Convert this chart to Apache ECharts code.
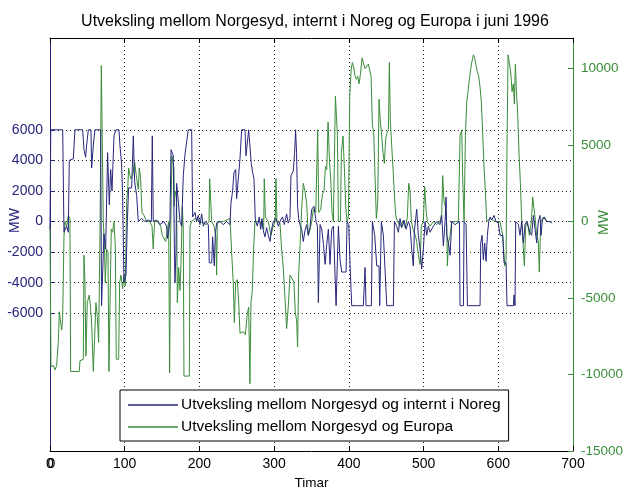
<!DOCTYPE html>
<html>
<head>
<meta charset="utf-8">
<script src="https://cdn.jsdelivr.net/npm/echarts@6/dist/echarts.min.js"></script>
<style>
  html, body { margin: 0; padding: 0; background: #fff; }
  #chart { width: 625px; height: 488px; }
</style>
</head>
<body>
<div id="chart"></div>
<script>
// Utveksling Norgesyd - internt i Noreg (MW), timar i juni 1996
var blueHours = [0, 1, 2.2, 17, 18.7, 22.3, 24.5, 25.8, 31.2, 33.4, 43.7, 45.5, 47.7, 49, 51.3, 54.8, 55.7, 57, 58, 60.2,
  67.8, 69, 71.3, 72.2, 74.5, 77.1, 79.4, 81.2, 83, 85.6, 88.3, 92.3, 93.6, 95.9, 97.2, 99, 101.7, 103.5, 105.2, 109.3,
  111.5, 113.3, 116, 118.2, 122.6, 127, 131.6, 135.6, 136.9, 138.2, 142.7, 147, 152.5, 156, 157.4, 159.2, 160.5, 162, 165, 166.4,
  167.3, 168.6, 169.5, 171.8, 174, 176.2, 178.4, 180.7, 182.9, 185.1, 189.6, 190.9, 194, 196.3, 198.5, 200.7, 203, 205.2, 207.4, 209.7,
  211.9, 213.2, 216.4, 217.7, 219.9, 221.3, 223, 227.5, 232, 236.4, 240.9, 242.2, 244.4, 246.2, 248.5, 249.8, 252, 254.3, 256.5, 261,
  262.3, 264.1, 265.9, 268.5, 269.4, 271.2, 273, 274.8, 277.5, 280.1, 282, 283.7, 285.5, 287.7, 289.9, 292.2, 294.4, 296.6, 298.9, 302.4,
  305.6, 308.7, 311.3, 313.6, 316.7, 318.9, 321.2, 322.5, 325.6, 327.4, 328.7, 330, 331.4, 332.8, 334.5, 336.8, 339, 341.2, 343.5, 345.7,
  348, 350.3, 353.4, 356.1, 357.9, 359.2, 360.6, 361.5, 363.7, 366, 368.2, 370.4, 372.6, 374.8, 377.1, 379.3, 381.5, 382.9, 384.7, 386,
  388.2, 390.5, 396.3, 397.6, 399.8, 401.6, 403.8, 411.4, 419.4, 421.7, 423, 430.1, 431.5, 434.6, 437.3, 440.4, 441.3, 442.6, 443.5, 446.2,
  448.4, 450.7, 459.6, 461, 464, 466.3, 468.5, 470.7, 473.9, 476.5, 479.7, 481.9, 484.1, 486.3, 487.7, 489.5, 490.8, 493, 495.3, 497.5,
  499.7, 502, 504.2, 506.4, 508.7, 513.1, 517.6, 522, 524.3, 526.5, 528.8, 530.1, 531, 533.2, 535.5, 537.7, 542.2, 548, 548.8, 553.3,
  554.2, 556.9, 558.7, 575.6, 576.5, 578.3, 580, 581.8, 583.6, 585.4, 587.2, 589, 591.2, 594.3, 597, 600.1, 602.4, 605.9, 607.7, 610.4,
  611.7, 620.2, 621.1, 622.4, 623.3, 626.9, 629.1, 631.4, 633.6, 635.8, 638, 642.5, 644.7, 647, 649.2, 651.4, 653.6, 655.9, 657.2, 659,
  661.7, 664.8, 669.3, 672];
var blueMW = [-500, 6000, 6000, 6000, -700, -300, -700, 4000, 4100, 6000, 6000, 4700, 4200, 5000, 6000, 6000, 3500, 3500, 5000, 6000,
  6000, -5500, -5500, -800, -1800, 4500, 1100, 3400, 2000, 5600, 6000, 6000, 5000, 3700, 1700, -4000, -3500, 0, 2200, 2200,
  5600, 2600, 1700, 0, 200, 0, 100, 0, 5600, 0, 100, -200, 0, -300, -1100, -500, 0, 4700, 4300, -1500,
  -4000, -2000, 2500, 1300, 0, -300, 3000, 4400, 4500, 6000, 6000, 300, 600, 0, 400, -200, 500, -300, 0, 100,
  -200, -2700, -2700, -1000, -2900, -800, -100, 0, -200, 0, -200, 1200, 2000, 3200, 3400, 1500, 1600, 4100, 6000, 6000,
  4300, 4400, 6000, 6000, 3800, 3200, 2800, 100, -300, 300, -500, 200, -600, -1000, -400, -900, -1300, -500, 0, 200,
  -300, 100, 300, -200, 500, -100, 200, 3000, 3300, 4500, 6000, 4500, 1000, 200, -200, -500, -1300, -600, -200, -900,
  -400, 800, 1000, 0, -300, -5300, -5300, -200, -500, -1500, -2800, -1500, -500, -2800, -500, -300, -200, -5500, -5500, -300,
  -2500, -3300, -3300, 0, -200, -2800, -5500, -5500, -5500, -3000, -5500, -5500, 0, -900, -2900, -2900, -5500, -5500, 0, -900,
  -3100, -5500, -5500, 0, -300, -700, 200, -400, 100, -500, 0, -300, -1800, -2900, -600, 200, 800, -900, -1800, -3100,
  -1800, 0, -900, -300, -700, -300, 0, -200, 400, -1600, 0, 1600, -900, -1400, -2200, 0, -200, 0, -5500, -5500,
  0, -200, -5500, -5500, -1400, -900, -2500, -1400, -2600, -900, 0, 300, 100, 400, 0, -100, -900, -900, -2700, -2700,
  -5500, -5500, -4800, -5500, 0, -200, -900, 0, -1400, -200, 0, -700, -900, 400, -500, -1400, 0, 400, -900, 100,
  300, 0, 0, -100];

// Utveksling Norgesyd - Europa (MW)
var greenHours = [0, 1.3, 4.4, 6.7, 8.9, 11.1, 12.5, 14.3, 15.6, 16.9, 18.7, 20, 22.3, 24.5, 26.7, 27.6, 39.2, 40.1, 44.6, 45.5,
  46.8, 48.1, 49.9, 52.6, 54.4, 55.7, 58, 60.6, 61.5, 63.3, 65.1, 66.9, 68.7, 70.4, 71.3, 72.7, 74, 75.8, 77.6, 78.9,
  81.2, 82, 83.8, 85.6, 87.4, 88.7, 91.9, 93.2, 95, 97.2, 99, 100.8, 102.6, 103.9, 105.2, 107.9, 110.6, 113.3, 116, 118.2,
  119.5, 121.3, 123.1, 125.8, 129.3, 133.8, 136.5, 138.2, 140, 144.9, 148.1, 150.3, 152.5, 154.8, 157, 158.8, 160.1, 161.4, 163.2, 165.9,
  166.5, 167.3, 169.5, 170.4, 172.2, 174, 175.3, 177.1, 178.4, 179.3, 186.5, 187.4, 189.6, 194, 200.7, 209.7, 212.8, 213.7, 215.5, 216.4,
  219.5, 222.1, 223, 224, 232, 240.9, 243.1, 245.3, 246.7, 248.5, 250.7, 252.5, 254.3, 258.7, 261.4, 264.1, 265.9, 267.6, 269, 270.8,
  272.5, 274.3, 281, 286, 286.8, 288.2, 292.2, 295.7, 298.9, 301.5, 302.4, 303.8, 307.8, 310, 312.2, 314.5, 316.7, 319, 321.2, 323.8,
  326.5, 328.3, 330.1, 331.4, 332.8, 334.5, 336.8, 339, 341.2, 343.5, 345.7, 348.1, 350.3, 352.5, 355.7, 357.4, 358.3, 359.7, 362.4, 364.6,
  366.8, 368.6, 370.4, 372.2, 374, 375.7, 377.5, 379.3, 381.1, 382, 383.3, 384.7, 386, 388.7, 390, 392.2, 394, 395.8, 397.6, 399.4,
  401.2, 403, 404.7, 406.5, 408.3, 410.1, 411.9, 413.6, 415.4, 417.7, 419.9, 421.7, 423.9, 426.1, 428.4, 429.7, 431.5, 433.3, 435, 436.8,
  438.6, 440.4, 442.2, 443.9, 445.7, 447.5, 449.3, 451.1, 452.9, 454.2, 455.6, 457.3, 459.1, 460.9, 462.7, 464.9, 468.5, 472.1, 475.6, 478.3,
  480.1, 481.9, 483.7, 486.3, 489, 490.8, 493, 495.3, 497, 499.7, 501.5, 503.3, 505.1, 508.7, 513.1, 517.6, 522, 524.3, 525.6, 527.4,
  529.2, 531, 531.9, 533.2, 535.5, 537.7, 546.6, 548.8, 551.1, 552.4, 554.2, 556, 557.8, 559.5, 561.3, 563.1, 564.9, 566.7, 568.5, 570.2,
  572, 573.8, 575.6, 577.4, 579.2, 581, 582.7, 584.5, 589, 595.7, 602.4, 605.9, 608.6, 610.4, 611.7, 613.1, 614.8, 616.6, 618.4, 620.2,
  621.5, 622.9, 624.2, 626, 627.8, 629.6, 631.4, 633.1, 634.9, 636.7, 639, 641.6, 644.3, 646.1, 647.4, 649.2, 651.4, 653.6, 654.9, 656.8,
  660.3, 664.8, 671.5];
var greenMW = [-300, -9500, -9400, -9700, -9400, -7900, -5900, -6000, -7100, -6400, -1000, 0, -300, 400, 200, -9800, -9800, -9100, -9000, -2200,
  -4000, -8800, -5300, -4800, -5700, -6600, -9800, -9800, -5300, -6200, -7900, -900, 10200, 10200, 0, -1300, -4000, -1800, -2000, -9800,
  -9800, -500, -700, 0, -1600, -9000, -9000, -4000, -3500, -4400, -3500, -4200, 1300, 2000, 3500, 2800, 3000, 3900, 2800, 2100,
  3500, 2800, 600, 400, 0, 0, -300, -1800, 0, 0, -300, -900, -900, -1300, -1300, 0, -9900, -1000, 4300, 3500,
  1000, 2000, 1500, -5300, -3000, -4500, -2800, 1000, -500, -10100, -10100, -300, 0, 200, 0, -200, 0, 2800, 2800, 0,
  -300, -1000, -3500, 0, 0, 200, -2000, -4000, -6600, -4000, -3800, -5200, -7300, -7200, -7400, -6000, -5600, -10600, -5300, -4500,
  -1800, 0, 0, -500, 2800, 300, 0, -900, -300, 0, 2800, 0, -100, -1800, -3000, -5000, -7000, -5500, -3500, -3700,
  -4000, -5900, -6500, -8200, -3500, -1800, 800, 2500, 2000, 1200, -900, -500, 0, 800, 600, 500, 6000, 600, 800, 1800,
  2000, 3600, 3400, 6500, 4000, 2800, 600, 0, 0, 8200, 7000, 5600, 0, 0, 4500, 5600, 3500, 1000, 0, 300,
  8200, 9900, 10400, 10100, 9500, 9300, 9500, 9000, 9600, 10700, 10300, 10000, 9900, 10300, 10300, 9500, 6300, 5800, 3000, 200,
  1200, 8000, 6500, 5600, 4500, 3800, 5400, 5800, 6000, 10400, 6500, 5000, 3500, 1800, 400, 0, -300, 0, -400, 300,
  2500, 2000, 0, -600, -900, -1300, -2200, -2800, -300, 0, 2300, 800, 0, -300, 0, -200, 0, 500, 3000, 1300,
  1000, -200, -2900, -1400, -900, 0, 0, 5600, 6000, 2800, 0, 5600, 7800, 8500, 9300, 10000, 10500, 10900, 10700, 10200,
  9800, 9500, 8800, 7800, 5600, 3500, 2000, 0, 200, 0, 0, -900, -2900, -2600, 5000, 10900, 10800, 9800, 8500, 9000,
  7700, 10300, 8600, 7000, 4400, 2500, 0, -1400, -2900, -300, 0, -900, 0, 1600, 1000, 300, -900, -1300, -3300, 0,
  300, 0, 0];

var xTicks = [0, 100, 200, 300, 400, 500, 600, 700];
var leftTicks = [-6000, -4000, -2000, 0, 2000, 4000, 6000];
var rightTicks = [-15000, -10000, -5000, 0, 5000, 10000];

var seriesNames = ['Utveksling mellom Norgesyd og internt i Noreg', 'Utveksling mellom Norgesyd og Europa'];

var blueColor = '#26267c';
var greenColor = '#3a8c3a';
var font = 'Liberation Sans, Arial, sans-serif';

function zip (xs, ys) {
  var out = [];
  for (var i = 0; i < xs.length; i++) out.push([xs[i], ys[i]]);
  return out;
}
function plain (v) { return String(v) }

var myChart = echarts.init(document.getElementById('chart'), null, { renderer: 'canvas' });
var option = {
  animation: false,
  backgroundColor: '#fff',
  textStyle: { fontFamily: font },
  title: {
    text: 'Utveksling mellom Norgesyd, internt i Noreg og Europa i juni 1996',
    left: 310,
    textAlign: 'center',
    top: 9,
    textStyle: { fontSize: 16, fontWeight: 'normal', color: '#000', fontFamily: font }
  },
  grid: { left: 50, right: 52, top: 38, bottom: 37, containLabel: false, outerBoundsMode: 'none' },
  legend: {
    orient: 'vertical',
    left: 120,
    top: 390,
    padding: [7, 8, 6, 8],
    itemGap: 6,
    itemWidth: 50,
    itemHeight: 1.5,
    icon: 'rect',
    backgroundColor: '#fff',
    borderColor: '#000',
    borderWidth: 1,
    borderRadius: 0,
    textStyle: { fontSize: 15.5, color: '#000', fontFamily: font, padding: [0, 0, 0, -2] },
    data: seriesNames
  },
  graphic: [
    { type: 'text', left: 8, top: 208, rotation: Math.PI / 2,
      style: { text: 'MW', fill: blueColor, font: '14px ' + font } },
    { type: 'text', left: 597, top: 210, rotation: Math.PI / 2,
      style: { text: 'MW', fill: greenColor, font: '14px ' + font } }
  ],
  xAxis: [
    {
      type: 'value', position: 'bottom', min: 0, max: 700, interval: 100,
      name: 'Timar', nameLocation: 'middle', nameGap: 22,
      nameTextStyle: { fontSize: 13.5, color: '#000' },
      axisLine: { show: true, onZero: false, lineStyle: { color: '#000' } },
      axisTick: { inside: true, length: 5, lineStyle: { color: '#000' } },
      axisLabel: { color: '#000', fontSize: 14, margin: 6, customValues: xTicks, formatter: plain },
      splitLine: { show: true, lineStyle: { color: '#222', type: [1, 3], width: 1 } }
    },
    {
      type: 'value', position: 'top', min: 0, max: 700, interval: 100,
      axisLine: { show: true, onZero: false, lineStyle: { color: '#000' } },
      axisTick: { inside: true, length: 5, lineStyle: { color: '#000' } },
      axisLabel: { show: false },
      splitLine: { show: false }
    },
    {
      type: 'value', position: 'bottom', min: 0, max: 700,
      axisLine: { show: false, onZero: false }, axisTick: { show: false }, splitLine: { show: false },
      axisLabel: { color: '#000', fontSize: 14, margin: 6, customValues: [0], padding: [0, 0, 0, 3], formatter: plain }
    }
  ],
  yAxis: [
    {
      type: 'value', position: 'left', min: -15000, max: 12000,
      axisLine: { show: true, onZero: false, lineStyle: { color: blueColor } },
      axisTick: { inside: true, length: 5, customValues: leftTicks, lineStyle: { color: blueColor } },
      axisLabel: { color: blueColor, fontSize: 14, margin: 7, customValues: leftTicks, formatter: plain },
      splitLine: { show: true, lineStyle: { color: '#222', type: [1, 3], width: 1 } }
    },
    {
      type: 'value', position: 'right', min: -15000, max: 12000,
      axisLine: { show: true, onZero: false, lineStyle: { color: greenColor } },
      axisTick: { inside: true, length: 5, customValues: rightTicks, lineStyle: { color: greenColor } },
      axisLabel: { color: greenColor, fontSize: 13.5, margin: 8, customValues: rightTicks, formatter: plain },
      splitLine: { show: false }
    }
  ],
  series: [
    {
      name: seriesNames[0], type: 'line', xAxisIndex: 0, yAxisIndex: 0,
      symbol: 'none', lineStyle: { color: blueColor, width: 1 }, itemStyle: { color: blueColor },
      data: zip(blueHours, blueMW), z: 3
    },
    {
      name: seriesNames[1], type: 'line', xAxisIndex: 0, yAxisIndex: 1,
      symbol: 'none', lineStyle: { color: greenColor, width: 1 }, itemStyle: { color: greenColor },
      data: zip(greenHours, greenMW), z: 2
    }
  ]
};
myChart.setOption(option);
</script>
</body>
</html>
